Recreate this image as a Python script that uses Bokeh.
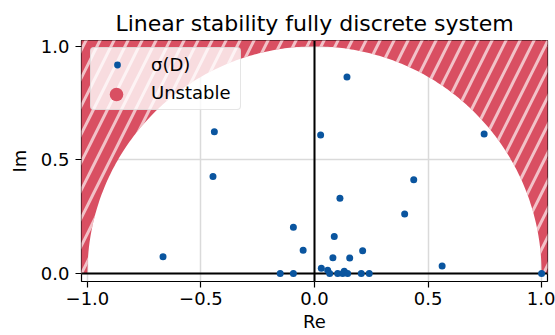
import numpy as np
from bokeh.plotting import figure
from bokeh.models import Range1d, FixedTicker, Legend, LegendItem
from bokeh.embed import file_html
from bokeh.resources import INLINE

# Eigenvalues of the discrete operator D (upper half plane)
eig_re = [-0.667, -0.441, -0.447, -0.093, -0.050, -0.151, -0.093, 0.030,
          0.027, 0.143, 0.747, 0.437, 0.112, 0.397, 0.087, 0.212, 0.081,
          0.155, 0.562, 0.058, 0.067, 0.102, 0.131, 0.124, 0.146, 0.206,
          0.241, 1.000]
eig_im = [0.074, 0.624, 0.427, 0.204, 0.103, 0.000, 0.000, 0.023,
          0.610, 0.865, 0.614, 0.413, 0.332, 0.262, 0.163, 0.100, 0.070,
          0.068, 0.033, 0.014, 0.000, 0.000, 0.010, 0.000, 0.000, 0.000,
          0.000, 0.000]

x_ticks = [-1.0, -0.5, 0.0, 0.5, 1.0]
x_tick_labels = ["\u22121.0", "\u22120.5", "0.0", "0.5", "1.0"]
y_ticks = [0.0, 0.5, 1.0]
y_tick_labels = ["0.0", "0.5", "1.0"]
legend_labels = ["\u03c3(D)", "Unstable"]
stability_radius = 1.0

FONT = "DejaVu Sans"
BLUE = "#0a559f"
RED = "#d94f62"

p = figure(width=555, height=335,
           x_range=Range1d(-1.026, 1.026), y_range=Range1d(-0.035, 1.026),
           title="Linear stability fully discrete system",
           output_backend="svg", toolbar_location=None,
           min_border_left=81, min_border_right=8,
           min_border_top=40, min_border_bottom=54)

p.background_fill_color = "white"
p.border_fill_color = "white"
p.outline_line_color = "black"
p.outline_line_width = 1.2

p.title.text_font = FONT
p.title.text_font_size = "22px"
p.title.text_font_style = "normal"
p.title.text_color = "black"
p.title.align = "center"
p.title.standoff = 9

# Unstable region: everything outside the unit circle in the upper half plane
theta = np.linspace(np.pi, 0.0, 300)
far = 1.5
reg_x = [-far] + list(stability_radius * np.cos(theta)) + [far, far, -far]
reg_y = [0.0] + list(stability_radius * np.sin(theta)) + [0.0, far, far]
p.patch(reg_x, reg_y, fill_color=RED, fill_alpha=1.0, line_color=None,
        hatch_pattern="/", hatch_color="white", hatch_alpha=0.65,
        hatch_weight=3, hatch_scale=28)

# Real and imaginary axes
p.vspan(x=[0.0], line_color="black", line_width=2)
p.hspan(y=[0.0], line_color="black", line_width=2)

r_pts = p.scatter(eig_re, eig_im, size=7, fill_color=BLUE, line_color=None)
# legend-only marker for the unstable region (no position in the plane)
r_unst = p.scatter(x=[np.nan], y=[np.nan], size=14, fill_color=RED,
                   line_color=None)

# Axes
p.xaxis.ticker = FixedTicker(ticks=x_ticks)
p.yaxis.ticker = FixedTicker(ticks=y_ticks)
p.xaxis.major_label_overrides = dict(zip(x_ticks, x_tick_labels))
p.yaxis.major_label_overrides = dict(zip(y_ticks, y_tick_labels))
p.xaxis.axis_label = "Re"
p.yaxis.axis_label = "Im"
for ax in (p.xaxis[0], p.yaxis[0]):
    ax.major_label_text_font = FONT
    ax.major_label_text_font_size = "18px"
    ax.major_label_text_color = "black"
    ax.axis_label_text_font = FONT
    ax.axis_label_text_font_size = "18px"
    ax.axis_label_text_font_style = "normal"
    ax.axis_label_text_color = "black"
    ax.major_tick_out = 6
    ax.major_tick_in = 0
    ax.minor_tick_out = 0
    ax.minor_tick_in = 0
    ax.major_tick_line_color = "black"
    ax.major_tick_line_width = 1.2
    ax.axis_line_color = None
p.xaxis.major_label_standoff = 4
p.xaxis.axis_label_standoff = 3
p.yaxis.major_label_standoff = 6
p.yaxis.axis_label_standoff = 8

p.xgrid.ticker = FixedTicker(ticks=x_ticks)
p.ygrid.ticker = FixedTicker(ticks=y_ticks)
p.grid.grid_line_color = "#dadada"
p.grid.grid_line_width = 1.5

# Legend box with both labels
legend = Legend(items=[LegendItem(label=legend_labels[0], renderers=[r_pts]),
                       LegendItem(label=legend_labels[1], renderers=[r_unst])],
                location=(9, 171), orientation="vertical",
                glyph_width=40, glyph_height=17, label_standoff=14,
                label_width=83, label_height=20, padding=6, spacing=7,
                margin=0,
                label_text_font=FONT, label_text_font_size="18px",
                label_text_color="black",
                background_fill_color="white", background_fill_alpha=0.8,
                border_line_color="#cccccc", border_line_width=1)
if "border_radius" in Legend.properties():
    legend.border_radius = 4
p.add_layout(legend)

# Larger marker for the unstable-region entry
legend_big = Legend(items=[LegendItem(label=" ", renderers=[r_unst])],
                    location=(18, 170.5), orientation="vertical",
                    glyph_width=34, glyph_height=34, label_standoff=0,
                    label_width=0, padding=0, margin=0,
                    label_text_font_size="1px",
                    background_fill_alpha=0, border_line_alpha=0)
p.add_layout(legend_big)

open("out.html", "w").write(file_html(p, INLINE))
